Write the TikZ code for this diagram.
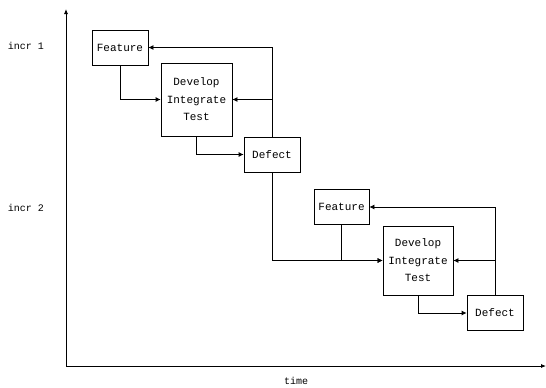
\documentclass[tikz,border=0pt]{standalone}
\usepackage{fontspec}
\setmonofont{Liberation Mono}
\usetikzlibrary{arrows.meta}

\begin{document}
\begin{tikzpicture}[
  x=1pt, y=-1pt,
  font=\ttfamily\fontsize{11}{17.5}\selectfont,
  every node/.style={inner sep=1pt},
  phase/.style={draw, line width=0.8pt, align=center, minimum height=35pt},
  link/.style={line width=0.8pt, -{Latex[length=5pt,width=5pt]}},
  axis/.style={line width=0.8pt, -{Latex[length=5pt,width=4pt]}},
  lbl/.style={font=\ttfamily\fontsize{10}{12}\selectfont}
]
\useasboundingbox (0,0) rectangle (546,388);
% axes
\coordinate (O) at (66,366);
\coordinate (T) at (66,9);
\coordinate (E) at (546,366);
\draw[axis] (O) -- (T);
\draw[axis] (O) -- (E);
\node[lbl] (time) at (296,381) {time};
\node[lbl] (inc1) at (26,46) {incr 1};
\node[lbl] (inc2) at (26,208) {incr 2};
% increment 1
\node[phase, minimum width=56pt] (F1) at (120,47.5) {Feature};
\node[phase, minimum width=71pt, minimum height=73pt] (D1) at (196.5,99.5) {Develop\\Integrate\\Test};
\node[phase, minimum width=56pt] (X1) at (272,154.5) {Defect};
% increment 2
\node[phase, minimum width=55pt] (F2) at (341.5,207) {Feature};
\node[phase, minimum width=70pt, minimum height=69pt] (D2) at (418,260.5) {Develop\\Integrate\\Test};
\node[phase, minimum width=56pt] (X2) at (495,313) {Defect};
% flow
\draw[link] (F1.south) |- (D1.west);
\draw[link] (D1.south) |- (X1.west);
\draw[link] (X1.north) |- (F1.east);
\draw[link] (X1.north) |- (D1.east);
\draw[link] (X1.south) |- (D2.west);
\draw[link] (F2.south) |- (D2.west);
\draw[link] (D2.south) |- (X2.west);
\draw[link] (X2.north) |- (F2.east);
\draw[link] (X2.north) |- (D2.east);
\end{tikzpicture}
\end{document}
